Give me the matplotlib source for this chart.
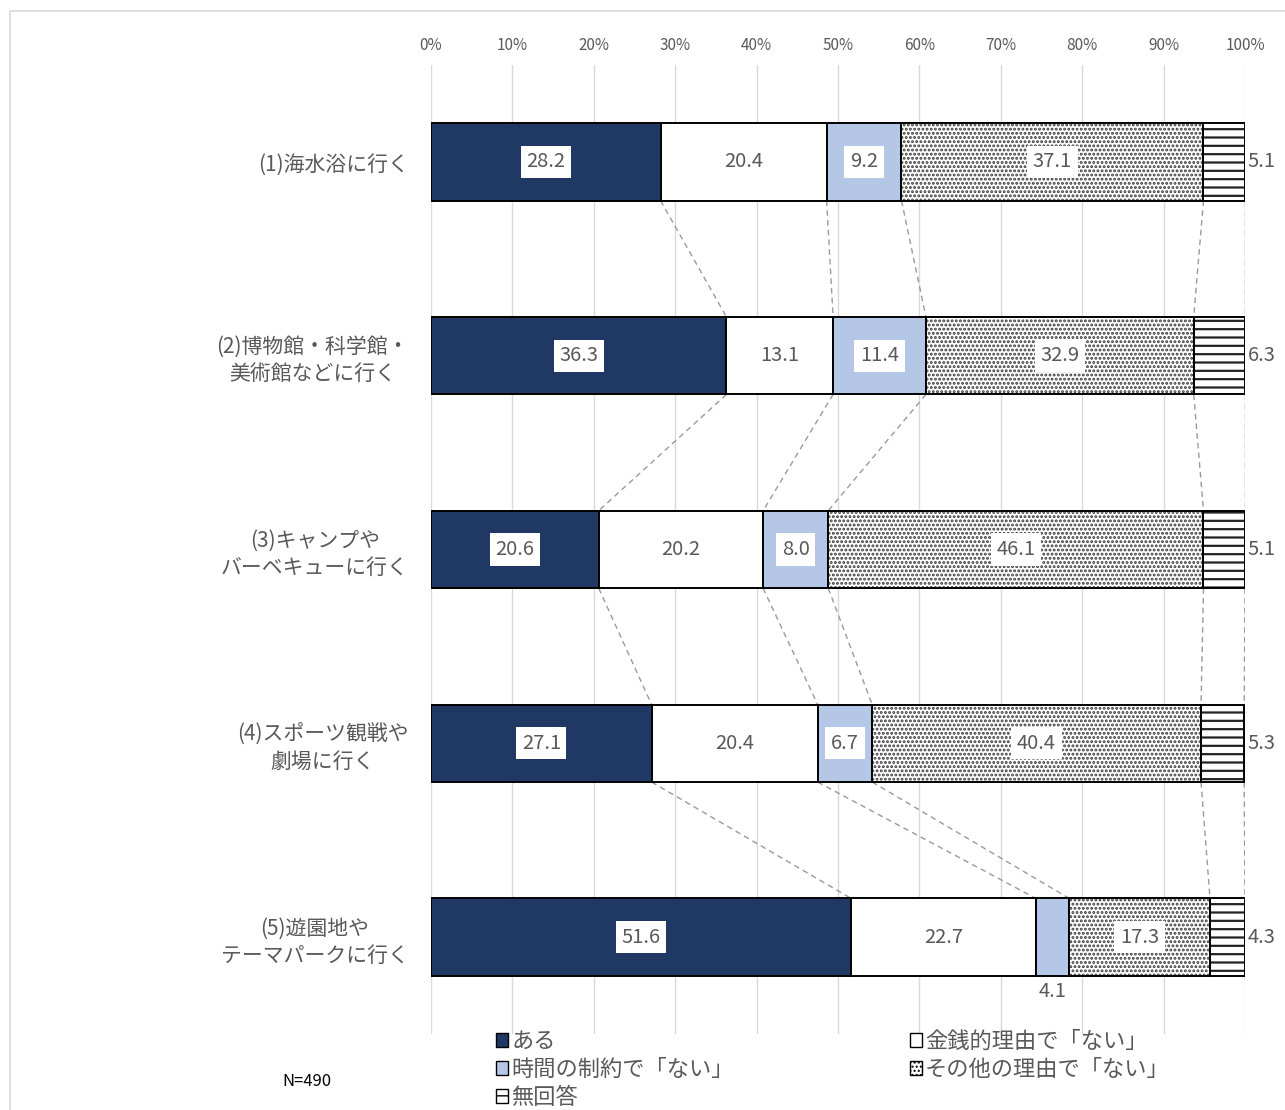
import matplotlib
matplotlib.use("Agg")
import matplotlib.pyplot as plt
from matplotlib.patches import Rectangle, Patch
import numpy as np

plt.rcParams['font.family'] = ['Noto Sans CJK JP', 'DejaVu Sans']

categories = ["(1)海水浴に行く",
              "(2)博物館・科学館・\n美術館などに行く",
              "(3)キャンプや\nバーベキューに行く",
              "(4)スポーツ観戦や\n劇場に行く",
              "(5)遊園地や\nテーマパークに行く"]
series_names = ["ある", "金銭的理由で「ない」", "時間の制約で「ない」",
                "その他の理由で「ない」", "無回答"]
aru      = [28.2, 36.3, 20.6, 27.1, 51.6]
kinsen   = [20.4, 13.1, 20.2, 20.4, 22.7]
jikan    = [9.2, 11.4, 8.0, 6.7, 4.1]
sonota   = [37.1, 32.9, 46.1, 40.4, 17.3]
mukaitou = [5.1, 6.3, 5.1, 5.3, 4.3]
xticks = [0, 10, 20, 30, 40, 50, 60, 70, 80, 90, 100]
xtick_labels = [f"{v}%" for v in xticks]
n_label = "N=490"

series = [aru, kinsen, jikan, sonota, mukaitou]
facecolors = ["#1F3864", "white", "#B4C7E7", "white", "white"]
hatches = [None, None, None, "....", "--"]
hatch_cols = ["black", "black", "black", "#3A3A3A", "#222222"]
hatch_lw = [1.0, 1.0, 1.0, 1.4, 1.6]
label_col = "#595959"

fig = plt.figure(figsize=(12.85, 11.1), dpi=100)
# outer chart border
fig.patches.append(Rectangle((10/1285, -0.01), 1.02, 1 - 11/1110 + 0.01,
                             transform=fig.transFigure, fill=False,
                             edgecolor="#D9D9D9", linewidth=1.2))
ax = fig.add_axes([431/1285, 1 - 1034/1110, 814/1285, (1034 - 65)/1110])

y = np.arange(len(categories))
bh = 0.4
left = np.zeros(len(categories))
bounds = []
for i, vals in enumerate(series):
    vals = np.array(vals)
    if hatches[i] is not None:
        with plt.rc_context({"hatch.linewidth": hatch_lw[i]}):
            ax.barh(y, vals, left=left, height=bh, color=facecolors[i],
                    edgecolor=hatch_cols[i], linewidth=0, hatch=hatches[i],
                    zorder=3)
        ax.barh(y, vals, left=left, height=bh, fill=False,
                edgecolor="black", linewidth=1.4, zorder=3.5)
    else:
        ax.barh(y, vals, left=left, height=bh, color=facecolors[i],
                edgecolor="black", linewidth=1.4, zorder=3)
    for j, v in enumerate(vals):
        cx = left[j] + v / 2
        txt = f"{v:.1f}"
        if i == len(series) - 1:
            ax.text(100.3, y[j], txt, ha="left", va="center", fontsize=14.5,
                    color=label_col, zorder=5)
        elif v < 5:
            ax.text(cx, y[j] + bh / 2 + 0.08, txt, ha="center", va="center",
                    fontsize=14.5, color=label_col, zorder=5)
        else:
            ax.text(cx, y[j], txt, ha="center", va="center", fontsize=14.5,
                    color=label_col, zorder=5,
                    bbox=dict(boxstyle="square,pad=0.28", facecolor="white",
                              edgecolor="none"))
    left = left + vals
    bounds.append(left.copy())

# series lines
for b in bounds:
    for j in range(len(categories) - 1):
        ax.plot([b[j], b[j + 1]], [y[j] + bh / 2, y[j + 1] - bh / 2],
                linestyle=(0, (4, 3)), color="#9A9A9A", linewidth=1.0, zorder=2)

ax.set_xlim(0, 100)
ax.set_ylim(len(categories) - 0.5, -0.5)
ax.set_xticks(xticks)
ax.set_xticklabels(xtick_labels, fontsize=11, color=label_col)
ax.xaxis.tick_top()
ax.tick_params(axis="x", length=0, pad=8)
ax.set_yticks(y)
ax.set_yticklabels(categories, fontsize=15, color=label_col, linespacing=1.3)
for lab in ax.get_yticklabels():
    lab.set_multialignment("center")
ax.tick_params(axis="y", length=0, pad=16)
ax.grid(axis="x", color="#D9D9D9", linewidth=1.0, zorder=0)
ax.set_axisbelow(True)
for s in ax.spines.values():
    s.set_visible(False)

handles = []
for i in range(len(series)):
    with plt.rc_context({"hatch.linewidth": 1.0}):
        handles.append(Patch(facecolor=facecolors[i], edgecolor="black",
                             hatch=hatches[i], linewidth=1.0))
order = [0, 2, 4, 1, 3]
fig.legend([handles[k] for k in order], [series_names[k] for k in order],
           loc="upper left", ncol=2,
           bbox_to_anchor=(496/1285, 1 - 1030/1110), frameon=False,
           fontsize=16, labelcolor=label_col, handlelength=0.55,
           handleheight=0.55, handletextpad=0.15, labelspacing=0.22,
           columnspacing=7.9, borderaxespad=0, borderpad=0)

fig.text(307/1285, 1 - 1081/1110, n_label, ha="center", va="center",
         fontsize=12, color="black")

fig.savefig("out.png", dpi=100)
